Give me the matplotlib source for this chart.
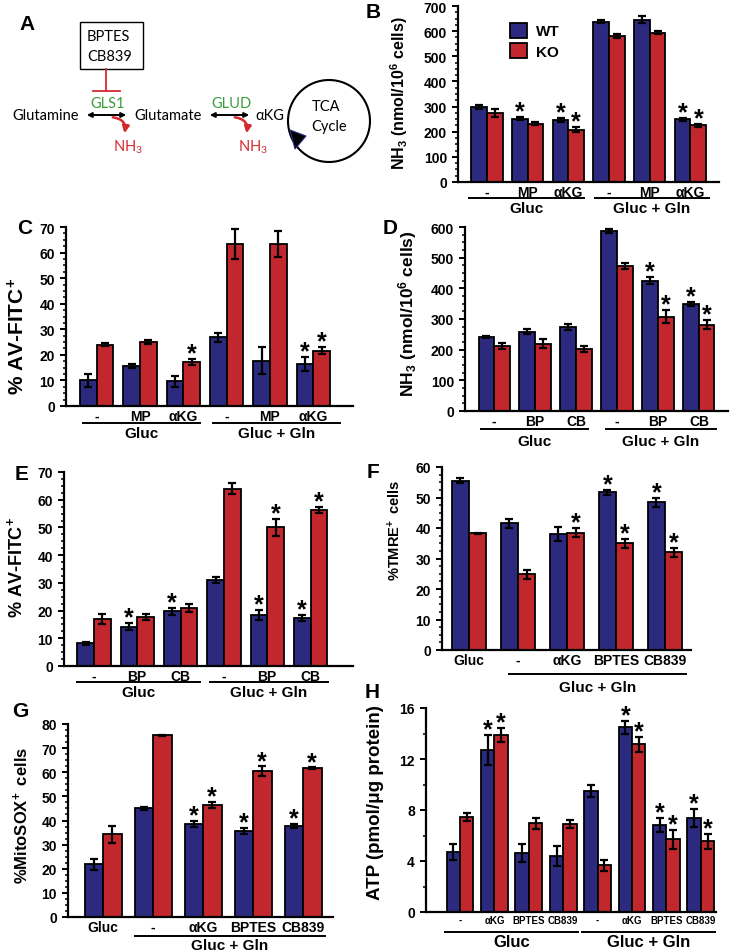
import numpy as np
import matplotlib
matplotlib.use("Agg")
import matplotlib.pyplot as plt
from matplotlib.ticker import MultipleLocator, AutoMinorLocator
from matplotlib.transforms import blended_transform_factory
from matplotlib.patches import Circle, Rectangle, FancyArrowPatch, Polygon

plt.rcParams["font.family"] = ["Liberation Sans", "DejaVu Sans"]
plt.rcParams["font.weight"] = "bold"
plt.rcParams["mathtext.default"] = "regular"

W, H = 733, 953
WT_COLOR = "#2b2a7e"
KO_COLOR = "#c1272d"

# ---- data ----
# B: NH3 release, Gluc (-, MP, aKG) then Gluc+Gln (-, MP, aKG)
b_labels = ["-", "MP", "αKG", "-", "MP", "αKG"]
b_wt = [300, 252, 248, 638, 645, 250]
b_wt_err = [8, 6, 8, 6, 14, 6]
b_ko = [275, 232, 208, 580, 594, 225]
b_ko_err = [15, 5, 10, 8, 6, 5]
b_stars = [(1, "wt"), (2, "wt"), (2, "ko"), (5, "wt"), (5, "ko")]

# C: % AV-FITC+
c_labels = ["-", "MP", "αKG", "-", "MP", "αKG"]
c_wt = [10.0, 15.7, 9.7, 26.8, 17.7, 16.3]
c_wt_err = [2.5, 0.7, 2.2, 1.8, 5.3, 2.8]
c_ko = [24.0, 25.2, 17.3, 63.3, 63.3, 21.6]
c_ko_err = [0.6, 0.8, 1.2, 6.0, 5.0, 1.4]
c_stars = [(2, "ko"), (5, "wt"), (5, "ko")]

# D: NH3 with glutaminase inhibitors
d_labels = ["-", "BP", "CB", "-", "BP", "CB"]
d_wt = [241, 259, 273, 586, 425, 348]
d_wt_err = [4, 7, 10, 7, 12, 7]
d_ko = [213, 220, 202, 472, 308, 282]
d_ko_err = [10, 15, 10, 10, 20, 15]
d_stars = [(4, "wt"), (4, "ko"), (5, "wt"), (5, "ko")]

# E: % AV-FITC+ with inhibitors
e_labels = ["-", "BP", "CB", "-", "BP", "CB"]
e_wt = [8.2, 14.2, 19.7, 31.1, 18.5, 17.3]
e_wt_err = [0.6, 1.2, 1.2, 1.0, 1.8, 1.1]
e_ko = [17.0, 17.6, 21.0, 64.0, 50.0, 56.3]
e_ko_err = [1.7, 1.1, 1.4, 2.0, 3.0, 1.0]
e_stars = [(1, "wt"), (2, "wt"), (4, "wt"), (4, "ko"), (5, "wt"), (5, "ko")]

# F: %TMRE+ cells
f_labels = ["Gluc", "-", "αKG", "BPTES", "CB839"]
f_wt = [55.5, 41.6, 38.0, 51.7, 48.5]
f_wt_err = [0.8, 1.5, 2.3, 0.8, 1.5]
f_ko = [38.2, 24.8, 38.4, 35.0, 32.0]
f_ko_err = [0.1, 1.5, 1.5, 1.5, 1.5]
f_stars = [(2, "ko"), (3, "wt"), (3, "ko"), (4, "wt"), (4, "ko")]

# G: %MitoSOX+ cells
g_labels = ["Gluc", "-", "αKG", "BPTES", "CB839"]
g_wt = [21.8, 45.0, 38.5, 35.7, 37.8]
g_wt_err = [2.2, 0.8, 1.2, 1.3, 0.8]
g_ko = [34.3, 75.4, 46.4, 60.4, 61.7]
g_ko_err = [3.5, 0.2, 1.2, 2.0, 0.3]
g_stars = [(2, "wt"), (2, "ko"), (3, "wt"), (3, "ko"), (4, "wt"), (4, "ko")]

# H: ATP
h_labels = ["-", "αKG", "BPTES", "CB839", "-", "αKG", "BPTES", "CB839"]
h_wt = [4.7, 12.7, 4.6, 4.4, 9.5, 14.5, 6.85, 7.35]
h_wt_err = [0.65, 1.2, 0.7, 0.8, 0.5, 0.5, 0.55, 0.7]
h_ko = [7.45, 13.9, 6.95, 6.9, 3.65, 13.15, 5.7, 5.55]
h_ko_err = [0.35, 0.55, 0.45, 0.35, 0.45, 0.6, 0.75, 0.6]
h_stars = [(1, "wt"), (1, "ko"), (5, "wt"), (5, "ko"), (6, "wt"), (6, "ko"), (7, "wt"), (7, "ko")]

fig = plt.figure(figsize=(W / 100, H / 100), dpi=100)


def px_axes(left, right, top, bottom):
    return fig.add_axes([left / W, 1 - bottom / H, (right - left) / W, (bottom - top) / H])


def bar_panel(ax, wt, wt_err, ko, ko_err, labels, stars, ymax, ystep, nminor,
              xlim, width, label_size=10, tick_size=10):
    x = np.arange(len(wt))
    ekw = dict(elinewidth=1.6, capthick=1.6, ecolor="black")
    bw = ax.bar(x - width / 2, wt, width, color=WT_COLOR, edgecolor="black", linewidth=1.3,
                yerr=wt_err, capsize=3.2, error_kw=ekw, label="WT")
    bk = ax.bar(x + width / 2, ko, width, color=KO_COLOR, edgecolor="black", linewidth=1.3,
                yerr=ko_err, capsize=3.2, error_kw=ekw, label="KO")
    for i, which in stars:
        if which == "wt":
            xs, top = x[i] - width / 2, wt[i] + wt_err[i]
        else:
            xs, top = x[i] + width / 2, ko[i] + ko_err[i]
        ax.annotate("*", (xs, top), xytext=(0, -1), textcoords="offset points",
                    ha="center", va="baseline", fontsize=18, fontweight="bold")
    ax.set_xlim(*xlim)
    ax.set_ylim(0, ymax)
    ax.yaxis.set_major_locator(MultipleLocator(ystep))
    ax.yaxis.set_minor_locator(AutoMinorLocator(nminor))
    ax.set_xticks(x, labels)
    ax.tick_params(axis="x", length=0, pad=2, labelsize=label_size)
    ax.tick_params(axis="y", which="major", direction="out", length=4, width=1.4,
                   labelsize=tick_size, pad=4)
    ax.tick_params(axis="y", which="minor", direction="out", length=2.5, width=1.1)
    for s in ["top", "right"]:
        ax.spines[s].set_visible(False)
    for s in ["left", "bottom"]:
        ax.spines[s].set_linewidth(1.6)
    return bw, bk


def group_line(ax, x0, x1, y_line, y_text, text, size=11):
    tr = blended_transform_factory(ax.transData, fig.transFigure)
    ax.plot([x0, x1], [1 - y_line / H] * 2, color="black", lw=1.4, transform=tr, clip_on=False)
    ax.text((x0 + x1) / 2, 1 - y_text / H, text, transform=tr, ha="center", va="center",
            fontsize=size, fontweight="bold")


def ylabel(ax, text, x_px, y_px, size):
    fig.text(x_px / W, 1 - y_px / H, text, rotation=90, ha="center", va="center",
             fontsize=size, fontweight="bold")


def letter(ch, x_px, y_px):
    fig.text(x_px / W, 1 - y_px / H, ch, ha="center", va="center", fontsize=15, fontweight="bold")


# ---- panel A: pathway diagram ----
axA = fig.add_axes([0, 1 - 175 / H, 366 / W, 175 / H])
axA.set_xlim(0, 366)
axA.set_ylim(175, 0)
axA.axis("off")
diag = dict(family=["Lato", "DejaVu Sans"], fontweight="normal", fontsize=10.5, va="center")
red = "#d42a2f"
green = "#3a9e3a"
axA.add_patch(Rectangle((80, 23), 63, 47, fill=False, edgecolor="black", lw=1.0))
axA.text(87, 37, "BPTES", ha="left", **diag)
axA.text(87, 57, "CB839", ha="left", **diag)
axA.plot([106, 106], [70, 92], color=red, lw=1.3)
axA.plot([93, 120], [92, 92], color=red, lw=1.3)
axA.text(108, 104, "GLS1", ha="center", color=green, **diag)
axA.text(231, 104, "GLUD", ha="center", color=green, **diag)
axA.text(12, 116, "Glutamine", ha="left", **diag)
axA.text(134, 116, "Glutamate", ha="left", **diag)
axA.text(255, 116, "αKG", ha="left", **diag)
for xa, xb in [(84, 129), (207, 252)]:
    axA.add_patch(FancyArrowPatch((xa, 116), (xb, 116), arrowstyle="<|-|>", mutation_scale=7,
                                  lw=1.4, color="black"))
for xa, ya, xb, yb in [(110, 118, 124, 137), (232, 118, 246, 137)]:
    axA.add_patch(FancyArrowPatch((xa, ya), (xb, yb), arrowstyle="-|>", mutation_scale=10,
                                  lw=1.8, color=red, connectionstyle="arc3,rad=-0.6"))
axA.text(128, 147, "NH$_3$", ha="center", color=red, **diag)
axA.text(253, 147, "NH$_3$", ha="center", color=red, **diag)
axA.add_patch(Circle((329, 122), 41, fill=False, edgecolor="black", lw=1.5, clip_on=False))
axA.text(326, 107, "TCA", ha="center", **diag)
axA.text(329, 127, "Cycle", ha="center", **diag)
axA.add_patch(Polygon([(290, 131), (306, 137), (295, 150)], closed=True,
                      facecolor="black", edgecolor="#2b2a7e", lw=0.8))
letter("A", 27, 24)

# ---- panel B ----
axB = px_axes(458, 719, 7, 183)
bw, bk = bar_panel(axB, b_wt, b_wt_err, b_ko, b_ko_err, b_labels, b_stars, 700, 100, 4,
                   (-0.71, 5.70), 0.385)
axB.legend(handles=[bw, bk], labels=["WT", "KO"], loc="upper left", frameon=False,
           bbox_to_anchor=(502 / W, 1 - 16 / H), bbox_transform=fig.transFigure,
           fontsize=11, handlelength=1.15, handleheight=1.15, handletextpad=0.6,
           labelspacing=0.3, borderpad=0)
group_line(axB, -0.43, 2.39, 199, 209, "Gluc")
group_line(axB, 2.66, 5.45, 199, 209, "Gluc + Gln")
ylabel(axB, "NH$_3$ (nmol/10$^6$ cells)", 399, 93, 11.5)
letter("B", 373, 12)

# ---- panel C ----
axC = px_axes(66, 353, 228, 407)
bar_panel(axC, c_wt, c_wt_err, c_ko, c_ko_err, c_labels, c_stars, 70, 10, 4,
          (-0.71, 5.92), 0.385)
group_line(axC, -0.31, 2.38, 424, 434, "Gluc")
group_line(axC, 2.69, 5.62, 424, 434, "Gluc + Gln")
ylabel(axC, r"% AV-FITC$^{\!+}$", 18, 336, 15)
letter("C", 25, 228)

# ---- panel D ----
axD = px_axes(465, 728, 228, 412)
bar_panel(axD, d_wt, d_wt_err, d_ko, d_ko_err, d_labels, d_stars, 600, 100, 4,
          (-0.71, 5.71), 0.38)
group_line(axD, -0.32, 2.29, 430, 442, "Gluc")
group_line(axD, 2.73, 5.41, 430, 442, "Gluc + Gln")
ylabel(axD, "NH$_3$ (nmol/10$^6$ cells)", 408, 314, 12.5)
letter("D", 390, 228)

# ---- panel E ----
axE = px_axes(64, 353, 473, 667)
bar_panel(axE, e_wt, e_wt_err, e_ko, e_ko_err, e_labels, e_stars, 70, 10, 4,
          (-0.69, 5.98), 0.385)
group_line(axE, -0.39, 2.45, 683, 693, "Gluc")
group_line(axE, 2.68, 5.40, 683, 693, "Gluc + Gln")
ylabel(axE, r"% AV-FITC$^{\!+}$", 16, 567, 13)
letter("E", 22, 475)

# ---- panel F ----
axF = px_axes(442, 691, 468, 651)
bar_panel(axF, f_wt, f_wt_err, f_ko, f_ko_err, f_labels, f_stars, 60, 10, 4,
          (-0.55, 4.53), 0.35, label_size=10)
group_line(axF, 0.82, 4.43, 675, 688, "Gluc + Gln")
ylabel(axF, r"%TMRE$^{\!+}$ cells", 395, 530, 10.5)
letter("F", 373, 472)

# ---- panel G ----
axG = px_axes(68, 333, 725, 918)
bar_panel(axG, g_wt, g_wt_err, g_ko, g_ko_err, g_labels, g_stars, 80, 10, 4,
          (-0.70, 4.60), 0.37, label_size=10)
group_line(axG, 0.64, 4.44, 937, 946, "Gluc + Gln")
ylabel(axG, r"%MitoSOX$^{\!+}$ cells", 21, 815, 12)
letter("G", 20, 712)

# ---- panel H ----
axH = px_axes(426, 716, 709, 913)
bar_panel(axH, h_wt, h_wt_err, h_ko, h_ko_err, h_labels, h_stars, 16, 4, 2,
          (-0.99, 7.44), 0.39, label_size=7)
group_line(axH, -0.44, 3.43, 933, 943, "Gluc", size=12)
group_line(axH, 3.55, 7.41, 933, 943, "Gluc + Gln", size=12)
ylabel(axH, "ATP (pmol/μg protein)", 376, 803, 13.5)
letter("H", 372, 693)

fig.savefig("out.png", dpi=100)
